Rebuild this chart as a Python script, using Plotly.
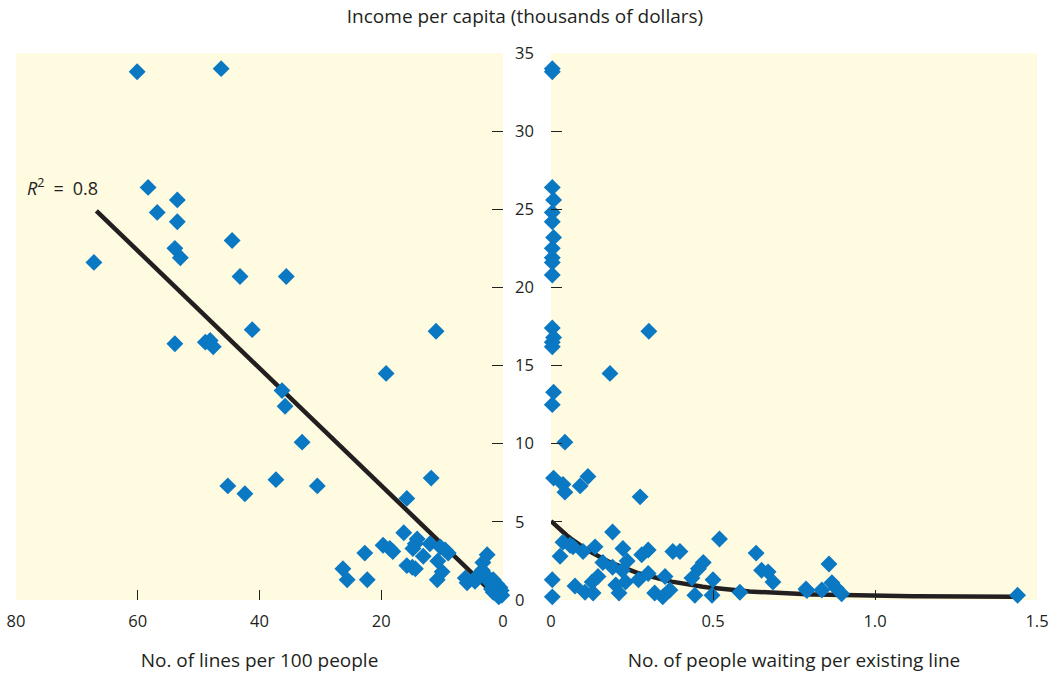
import plotly.graph_objects as go
import numpy as np

# ---- Data ----
left_lines = [60.1, 46.3, 58.3, 56.8, 53.5, 53.5, 53.9, 53.0, 67.2, 44.5, 43.2, 35.6, 41.2, 53.9,
              48.9, 48.1, 47.6, 11.0, 19.2, 36.3, 35.8, 33.0, 45.2, 42.4, 37.3, 30.5, 11.8, 15.8,
              16.3, 14.1, 14.4, 14.8, 19.7, 18.1, 18.6, 22.7, 12.0, 10.3, 9.5, 9.0, 13.1, 10.7,
              15.8, 14.9, 14.4, 10.0, 10.8, 26.3, 25.6, 22.3, 6.2, 5.9, 2.6, 3.3, 3.4, 4.3, 2.6,
              1.6, 2.1, 1.0, 0.5, 1.3, 0.3, 0.2, 1.6, 1.0, 4.6, 1.9, 0.7]
left_income = [33.8, 34.0, 26.4, 24.8, 25.6, 24.2, 22.5, 21.9, 21.6, 23.0, 20.7, 20.7, 17.3, 16.4,
               16.5, 16.6, 16.2, 17.2, 14.5, 13.4, 12.4, 10.1, 7.3, 6.8, 7.7, 7.3, 7.8, 6.5,
               4.3, 3.9, 3.6, 3.3, 3.5, 3.1, 3.3, 3.0, 3.6, 3.4, 3.2, 3.0, 2.8, 2.5,
               2.2, 2.1, 2.0, 1.8, 1.3, 2.0, 1.3, 1.3, 1.4, 1.1, 2.9, 2.4, 1.9, 1.5, 1.5,
               1.3, 1.1, 1.0, 0.8, 0.8, 0.6, 0.3, 0.5, 0.4, 1.2, 0.7, 0.2]

right_wait = [0.004, 0.004, 0.004, 0.008, 0.004, 0.004, 0.008, 0.004, 0.004, 0.004, 0.004, 0.004,
              0.008, 0.004, 0.004, 0.008, 0.004, 0.008, 0.004, 0.004,
              0.043, 0.037, 0.043, 0.09, 0.114, 0.275, 0.182, 0.302, 0.19, 0.037, 0.059, 0.068,
              0.028, 0.099, 0.136, 0.222, 0.16, 0.19, 0.22, 0.235, 0.28, 0.30, 0.376, 0.398,
              0.47, 0.455, 0.52, 0.074, 0.127, 0.145, 0.105, 0.13, 0.2, 0.21, 0.23, 0.27, 0.30,
              0.32, 0.345, 0.352, 0.367, 0.435, 0.444, 0.50, 0.497, 0.583, 0.633, 0.65, 0.67,
              0.685, 0.787, 0.79, 0.836, 0.858, 0.867, 0.88, 0.897, 1.44]
right_income = [33.8, 34.0, 26.4, 25.6, 24.8, 24.2, 23.2, 22.5, 21.9, 21.6, 20.8, 17.4,
                16.8, 16.5, 16.2, 13.3, 12.5, 7.8, 1.3, 0.2,
                10.1, 7.4, 6.9, 7.3, 7.9, 6.6, 14.5, 17.2, 4.35, 3.7, 3.5, 3.4,
                2.8, 3.1, 3.4, 3.3, 2.4, 2.1, 1.9, 2.5, 2.9, 3.2, 3.1, 3.1,
                2.4, 2.0, 3.9, 0.9, 1.15, 1.5, 0.5, 0.45, 0.96, 0.45, 1.15, 1.3, 1.7,
                0.45, 0.2, 1.5, 0.64, 1.4, 0.3, 1.3, 0.3, 0.5, 3.0, 1.9, 1.8,
                1.15, 0.7, 0.6, 0.64, 2.3, 1.1, 0.77, 0.4, 0.3]

# fitted trend lines
fit_line_x = [66.8, 0.5]
fit_line_y = [24.9, 0.0]
curve_a, curve_b, curve_c = 4.85, 4.3, 0.2
curve_x_range = [0.0, 1.43]

y_ticks = [0, 5, 10, 15, 20, 25, 30, 35]
x_left_ticks = [80, 60, 40, 20, 0]
x_right_ticks = [0, 0.5, 1.0, 1.5]
x_right_labels = ["0", "0.5", "1.0", "1.5"]

BLUE = "#0a78c2"
DARK = "#231f20"
BG = "#fffbe0"
FONT = "Open Sans"

curve_x = np.linspace(curve_x_range[0], curve_x_range[1], 120)
curve_y = curve_a * np.exp(-curve_b * curve_x) + curve_c

fig = go.Figure()
fig.add_trace(go.Scatter(x=fit_line_x, y=fit_line_y, mode="lines",
                         line=dict(color=DARK, width=4.5), xaxis="x", yaxis="y",
                         showlegend=False, hoverinfo="skip", cliponaxis=False))
fig.add_trace(go.Scatter(x=left_lines, y=left_income, mode="markers",
                         marker=dict(symbol="diamond", size=13, color=BLUE),
                         xaxis="x", yaxis="y", showlegend=False, cliponaxis=False))
fig.add_trace(go.Scatter(x=curve_x, y=curve_y, mode="lines",
                         line=dict(color=DARK, width=4.5), xaxis="x2", yaxis="y2",
                         showlegend=False, hoverinfo="skip", cliponaxis=False))
fig.add_trace(go.Scatter(x=right_wait, y=right_income, mode="markers",
                         marker=dict(symbol="diamond", size=13, color=BLUE),
                         xaxis="x2", yaxis="y2", showlegend=False, cliponaxis=False))

tickfont = dict(family=FONT, size=16.5, color=DARK)
titlefont = dict(family=FONT, size=19, color=DARK)
W, H = 1050, 673
ml, mr, mt, mb = 16, 13, 53, 73
pw = W - ml - mr

fig.update_layout(
    width=W, height=H,
    margin=dict(l=ml, r=mr, t=mt, b=mb, autoexpand=False),
    paper_bgcolor="white", plot_bgcolor=BG,
    font=dict(family=FONT, size=16, color=DARK),
    title=dict(text="Income per capita (thousands of dollars)", x=0.5, xanchor="center",
               y=1 - 16.5 / H, yanchor="middle", yref="container", font=titlefont),
    xaxis=dict(domain=[0, 487 / pw], range=[80, 0], tickvals=x_left_ticks,
               ticks="inside", ticklen=10, tickwidth=1.3, tickcolor=DARK,
               showgrid=False, zeroline=False, showline=False, tickfont=tickfont,
               ticklabelstandoff=9, ticklabeloverflow="allow", anchor="y", automargin=False,
               title=dict(text="No. of lines per 100 people", standoff=27, font=titlefont)),
    xaxis2=dict(domain=[535 / pw, 1], range=[0, 1.5], tickvals=x_right_ticks,
                ticktext=x_right_labels,
                ticks="inside", ticklen=10, tickwidth=1.3, tickcolor=DARK,
                showgrid=False, zeroline=False, showline=False, tickfont=tickfont,
                ticklabelstandoff=9, ticklabeloverflow="allow", anchor="y2", automargin=False,
                title=dict(text="No. of people waiting per existing line", standoff=27,
                           font=titlefont)),
    yaxis=dict(range=[0, 35], tickvals=y_ticks, anchor="x", side="right",
               ticks="inside", ticklen=11, tickwidth=1.3, tickcolor=DARK,
               showgrid=False, zeroline=False, showline=False, tickfont=tickfont,
               ticklabelstandoff=11, ticklabeloverflow="allow", automargin=False),
    yaxis2=dict(range=[0, 35], tickvals=y_ticks, anchor="x2", side="left", matches="y",
                ticks="inside", ticklen=11, tickwidth=1.3, tickcolor=DARK,
                showgrid=False, zeroline=False, showline=False, showticklabels=False,
                automargin=False),
    annotations=[dict(text="<i>R</i><sup>2</sup>\u2002=\u20020.8", x=78.5, y=26.4,
                      xref="x", yref="y",
                      xanchor="left", yanchor="middle", showarrow=False,
                      font=dict(family=FONT, size=18, color=DARK))],
)

fig.write_html("out.html", config={"displayModeBar": False},
               post_script="document.body.style.margin='0';document.body.style.overflow='hidden';")
